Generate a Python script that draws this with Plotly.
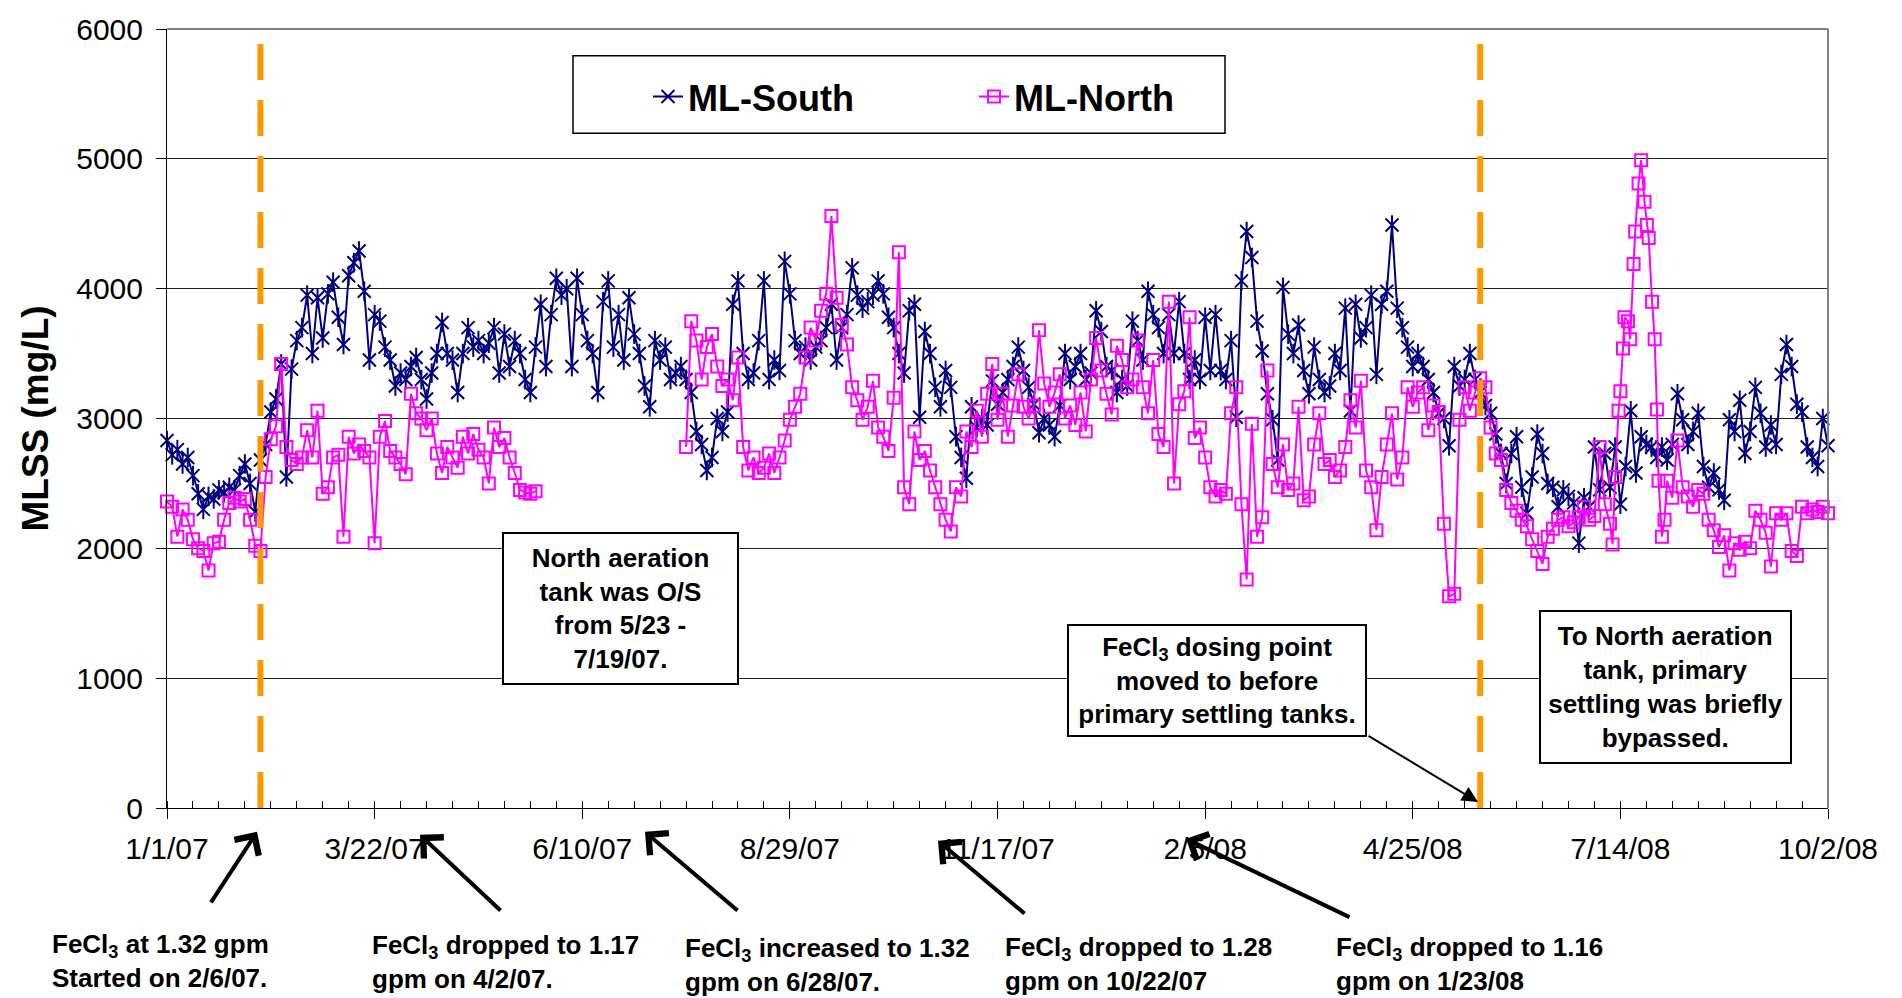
import pandas as pd
import plotly.graph_objects as go

FONT = "Liberation Sans, Arial, sans-serif"
START = pd.Timestamp("2007-01-01")
X_END = "2008-10-02"

# ---------------- data ----------------
tick_labels = ["1/1/07", "3/22/07", "6/10/07", "8/29/07", "11/17/07",
               "2/5/08", "4/25/08", "7/14/08", "10/2/08"]
y_ticks = [0, 1000, 2000, 3000, 4000, 5000, 6000]

# ML-South: every second day from 1/1/07
south_days = list(range(0, 641, 2))
south_mlss = [
    2830, 2720, 2760, 2650, 2700, 2560, 2420, 2300, 2400, 2380,
    2450, 2430, 2470, 2450, 2560, 2650, 2500, 2280, 2680, 2800,
    3050, 3150, 3420, 2550, 3380, 3600, 3700, 3950, 3500, 3930,
    3620, 3960, 4050, 3780, 3570, 4100, 4200, 4290, 3980, 3450,
    3800, 3750, 3550, 3450, 3250, 3350, 3300, 3400, 3470, 3300,
    3150, 3350, 3500, 3740, 3500, 3450, 3200, 3500, 3700, 3550,
    3600, 3500, 3580, 3700, 3350, 3650, 3400, 3600, 3500, 3300,
    3200, 3550, 3880, 3400, 3800, 4080, 3950, 4000, 3400, 4080,
    3800, 3600, 3500, 3200, 3900, 4060, 3550, 3800, 3450, 3930,
    3650, 3500, 3250, 3090, 3600, 3450, 3550, 3300, 3350, 3400,
    3300, 3200, 2900, 2800, 2600, 2700, 3000, 2900, 3050, 3880,
    4060, 3500, 3300, 3350, 3600, 4060, 3300, 3450, 3370, 4210,
    3960, 3600, 3500, 3550, 3450, 3550, 3600, 3700, 3880, 3450,
    3700, 3800, 4160, 3950, 3850, 3900, 3950, 4060, 3960, 3780,
    3700, 3500, 3350, 3830, 3880, 3010, 3670, 3500, 3240, 3090,
    3370, 3240, 2860, 2700, 2540, 3090, 2930, 3000, 2950, 3290,
    3110, 3200, 3300, 3400, 3550, 3370, 3240, 3110, 2890, 3000,
    2950, 2860, 3100, 3500, 3300, 3400, 3500, 3300, 3350, 3830,
    3670, 3400, 3370, 3200, 3300, 3250, 3750, 3600, 3450, 3980,
    3800, 3700, 3500, 3800, 3500, 3900, 3500, 3300, 3450, 3300,
    3780, 3370, 3800, 3370, 3300, 3600, 3010, 4060, 4440, 4240,
    3750, 3520, 3190, 2990, 2680, 4010, 3650, 3500, 3720, 3370,
    3190, 3550, 3300, 3200, 3250, 3500, 3370, 3850, 3060, 3880,
    3620, 3700, 3950, 3340, 3880, 3980, 4490, 3850, 3700, 3550,
    3400, 3500, 3400, 3300, 3200, 3040, 3000, 2790, 3400, 3250,
    3300, 3500, 3300, 3200, 3100, 3040, 2880, 2730, 2500, 2730,
    2860, 2470, 2270, 2550, 2880, 2730, 2500, 2470, 2320, 2450,
    2400, 2350, 2040, 2390, 2320, 2780, 2450, 2730, 2470, 2780,
    2340, 2630, 3060, 2580, 2860, 2800, 2780, 2700, 2780, 2680,
    2800, 3190, 2990, 2800, 2900, 3040, 2630, 2470, 2580, 2450,
    2370, 2990, 2900, 3140, 2730, 2900, 3240, 3040, 2780, 2950,
    2800, 3340, 3570, 3400, 3110, 3050, 2780, 2700, 2630, 3000,
    2790,
]

# ML-North, part 1 (before the tank went out of service 5/23/07)
north_days_a = list(range(0, 143, 2))
north_mlss_a = [
    2360, 2320, 2090, 2300, 2220, 2070, 2000, 1980, 1830, 2040,
    2050, 2220, 2350, 2390, 2360, 2380, 2220, 2020, 1980, 2550,
    2840, 2940, 3420, 2780, 2680, 2650, 2700, 2910, 2700, 3060,
    2420, 2470, 2700, 2720, 2090, 2860, 2730, 2800, 2750, 2700,
    2040, 2860, 2980, 2750, 2700, 2650, 2570, 3190, 3040, 3000,
    2910, 3000, 2730, 2580, 2780, 2700, 2620, 2860, 2730, 2880,
    2760, 2700, 2500, 2930, 2780, 2850, 2700, 2580, 2450, 2430,
    2420, 2440,
]
# ML-North, part 2 (back in service 7/19/07)
north_days_b = list(range(200, 555, 2))
north_mlss_b = [
    2780, 3750, 3600, 3300, 3550, 3650, 3400, 3250, 3300, 3140,
    3470, 2780, 2600, 2700, 2580, 2620, 2730, 2580, 2700, 2830,
    2990, 3090, 3190, 3470, 3700, 3600, 3830, 3960, 4560, 3930,
    3720, 3570, 3240, 3140, 2990, 3090, 3290, 2930, 2860, 2750,
    3160, 4280, 2470, 2340, 2900, 2680, 2750, 2600, 2470, 2340,
    2220, 2130, 2470, 2400, 2900, 2780, 3060, 2860, 3190, 3420,
    2990, 3190, 2860, 3100, 3340, 3090, 3000, 3100, 3680, 3270,
    3090, 3200, 3340, 3000, 3100, 2950, 3200, 2900, 3300, 3620,
    3370, 3190, 3030, 3560, 3450, 3240, 3300, 3600, 3240, 3040,
    3450, 2880, 2780, 3900, 2500, 3110, 3210, 3780, 2850, 2930,
    2700, 2470, 2400, 2450, 2420, 3040, 3240, 2340, 1760, 2960,
    2090, 2240, 3370, 2650, 2470, 2800, 2450, 2500, 3090, 2370,
    2400, 2800, 3040, 2650, 2680, 2550, 2600, 2780, 3140, 2930,
    3290, 2600, 2470, 2140, 2550, 2800, 3040, 2530, 2700, 3240,
    3090, 3200, 3240, 2910, 3100, 3050, 2190, 1630, 1650, 2990,
    3240, 3060, 3200, 3310, 3240, 2930, 2730, 2680, 2450, 2350,
    2290, 2220, 2170, 2070, 1980, 1880, 2090, 2150, 2220, 2240,
    2170, 2200, 2240, 2320, 2220, 2250, 2780, 2340,
]
# ML-North, July 2008 spike (daily readings)
north_days_c = [556, 557, 558, 559.3, 560, 561, 561.6, 562.9, 563.8, 565.1, 565.7,
                567, 568, 569.3, 570.2, 570.9, 572.2, 573.2, 574.1, 574.7, 576, 577]
north_mlss_c = [2190, 2030, 2550, 3060, 3210, 3540, 3780, 3750, 3610, 4190, 4440,
                4810, 4990, 4670, 4490, 4390, 3900, 3610, 3070, 2520, 2090, 2220]
north_days_d = list(range(578, 641, 2))
north_mlss_d = [
    2520, 2390, 2830, 2470, 2400, 2320, 2450, 2420, 2220, 2140,
    2010, 2100, 1830, 2040, 1990, 2050, 2000, 2290, 2220, 2120,
    1860, 2270, 2220, 2270, 1980, 1940, 2320, 2270, 2300, 2280,
    2320, 2270,
]

fecl3_start_dates = ["2007-02-06", "2008-05-21"]


def to_dates(days):
    return [START + pd.Timedelta(hours=round(d * 24)) for d in days]


south_x = to_dates(south_days)
north_x = (to_dates(north_days_a) + to_dates([170])
           + to_dates(north_days_b) + to_dates(north_days_c) + to_dates(north_days_d))
north_y = north_mlss_a + [None] + north_mlss_b + north_mlss_c + north_mlss_d

# ---------------- layout geometry ----------------
W, H = 1902, 998
L, R, T, B = 167, 1828, 24, 808


def px(x):
    return (x - L) / (R - L)


def py(y):
    return (B - y) / (B - T)


NAVY = "#000080"
PINK = "#FF00FF"

fig = go.Figure()
fig.add_trace(go.Scatter(
    x=south_x, y=south_mlss, name="ML-South", mode="lines+markers",
    line=dict(color=NAVY, width=2),
    marker=dict(symbol="x-thin-open", size=13, color=NAVY, line=dict(color=NAVY, width=2)),
    cliponaxis=False, legend="legend"))
fig.add_trace(go.Scatter(
    x=south_x, y=south_mlss, name="ML-South", mode="markers", showlegend=False,
    marker=dict(symbol="line-ns-open", size=14, color=NAVY, line=dict(color=NAVY, width=2)),
    cliponaxis=False, hoverinfo="skip"))
fig.add_trace(go.Scatter(
    x=north_x, y=north_y, name="ML-North", mode="lines+markers",
    line=dict(color=PINK, width=2), connectgaps=False,
    marker=dict(symbol="square-open", size=12, color=PINK, line=dict(color=PINK, width=2)),
    cliponaxis=False, legend="legend2"))

tickvals = pd.to_datetime(tick_labels, format="%m/%d/%y")

fig.update_layout(
    width=W, height=H,
    margin=dict(l=L, r=W - R, t=T, b=H - B, pad=0),
    paper_bgcolor="white", plot_bgcolor="white",
    font=dict(family=FONT, color="black"),
    xaxis=dict(
        type="date", range=[START, X_END],
        tickmode="array", tickvals=tickvals, ticktext=tick_labels,
        ticks="outside", ticklen=10, tickwidth=1, tickcolor="black",
        showline=True, linecolor="black", linewidth=1,
        showgrid=False, zeroline=False,
        tickfont=dict(family=FONT, size=30, color="black"),
        ticklabelstandoff=4,
        minor=dict(tickmode="linear", tick0=START, dtick=10 * 86400000,
                   ticks="inside", ticklen=7, tickwidth=1, tickcolor="black",
                   showgrid=False),
    ),
    yaxis=dict(
        range=[0, 6000], tickmode="array", tickvals=y_ticks,
        ticks="outside", ticklen=10, tickwidth=1, tickcolor="black",
        showline=True, linecolor="black", linewidth=1,
        showgrid=True, gridcolor="#222222", gridwidth=1, zeroline=False,
        tickfont=dict(family=FONT, size=30, color="black"),
        ticklabelstandoff=7,
        title=dict(text="MLSS (mg/L)", standoff=16,
                   font=dict(family=FONT, size=37, color="black", weight="bold")),
    ),
    legend=dict(x=px(648), y=py(92), xanchor="left", yanchor="middle",
                orientation="h", bgcolor="rgba(0,0,0,0)", borderwidth=0,
                font=dict(family=FONT, size=36, color="black", weight="bold")),
    legend2=dict(x=px(974), y=py(92), xanchor="left", yanchor="middle",
                 orientation="h", bgcolor="rgba(0,0,0,0)", borderwidth=0,
                 font=dict(family=FONT, size=36, color="black", weight="bold")),
    showlegend=True,
)

shapes = [
    # plot-area frame: gray top and right edges
    dict(type="line", xref="x domain", yref="y domain", x0=0, x1=1, y0=1, y1=1,
         line=dict(color="#808080", width=2), layer="above"),
    dict(type="line", xref="x domain", yref="y domain", x0=1, x1=1, y0=0, y1=1,
         line=dict(color="#808080", width=2), layer="above"),
    # legend box
    dict(type="rect", xref="paper", yref="paper", x0=px(573), x1=px(1225),
         y0=py(129), y1=py(51), line=dict(color="black", width=1.5),
         fillcolor="white", layer="below"),
]
for d in fecl3_start_dates:
    shapes.append(dict(type="line", xref="x", yref="y", x0=d, x1=d, y0=5885, y1=0,
                       line=dict(color="#FF9900", width=6, dash="36px,20px"), layer="above"))
fig.update_layout(shapes=shapes)

# bottom notes with arrows
bottom_notes = [
    ("<b>FeCl<sub>3</sub> at 1.32 gpm<br>Started on 2/6/07.</b>", 50, 962, (210, 904), (257, 832)),
    ("<b>FeCl<sub>3</sub> dropped to 1.17<br>gpm on 4/2/07.</b>", 370, 963, (502, 912), (420, 835)),
    ("<b>FeCl<sub>3</sub> increased to 1.32<br>gpm on 6/28/07.</b>", 683, 966, (739, 912), (645, 832)),
    ("<b>FeCl<sub>3</sub> dropped to 1.28<br>gpm on 10/22/07</b>", 1003, 965, (1026, 915), (938, 841)),
    ("<b>FeCl<sub>3</sub> dropped to 1.16<br>gpm on 1/23/08</b>", 1334, 965, (1351, 918), (1186, 839)),
]
for text, tx, ty, tail, head in bottom_notes:
    fig.add_annotation(text=text, xref="paper", yref="paper", x=px(tx), y=py(ty),
                       xanchor="left", yanchor="middle", align="left", showarrow=False,
                       font=dict(family=FONT, size=26, color="black"))
    fig.add_annotation(text="", xref="paper", yref="paper", x=px(head[0]), y=py(head[1]),
                       ax=tail[0] - head[0], ay=tail[1] - head[1], axref="pixel", ayref="pixel",
                       showarrow=True, arrowhead=4, arrowsize=1.4, arrowwidth=4, arrowcolor="black")

# boxed notes
boxed_notes = [
    ("<b>North aeration<br>tank was O/S<br>from 5/23 -<br>7/19/07.</b>", (502, 531, 739, 684)),
    ("<b>FeCl<sub>3</sub> dosing point<br>moved to before<br>primary settling tanks.</b>", (1067, 623, 1367, 736)),
    ("<b>To North aeration<br>tank, primary<br>settling was briefly<br>bypassed.</b>", (1539, 609, 1792, 763)),
]
for text, (x0, y0, x1, y1) in boxed_notes:
    fig.add_annotation(text=text, xref="paper", yref="paper",
                       x=px((x0 + x1) / 2), y=py((y0 + y1) / 2),
                       xanchor="center", yanchor="middle", align="center", valign="middle",
                       width=x1 - x0 - 4, height=y1 - y0 - 4,
                       bordercolor="black", borderwidth=2, borderpad=0, bgcolor="white",
                       showarrow=False, font=dict(family=FONT, size=26, color="black"))

# arrow from the dosing-point box to the second FeCl3 line
fig.add_annotation(text="", xref="paper", yref="paper", x=px(1478), y=py(802),
                   ax=1367 - 1478, ay=735 - 802, axref="pixel", ayref="pixel",
                   showarrow=True, arrowhead=2, arrowsize=1.6, arrowwidth=2, arrowcolor="black")

fig.write_html("out.html", config={"displayModeBar": False},
               post_script="document.body.style.margin='0px';")
